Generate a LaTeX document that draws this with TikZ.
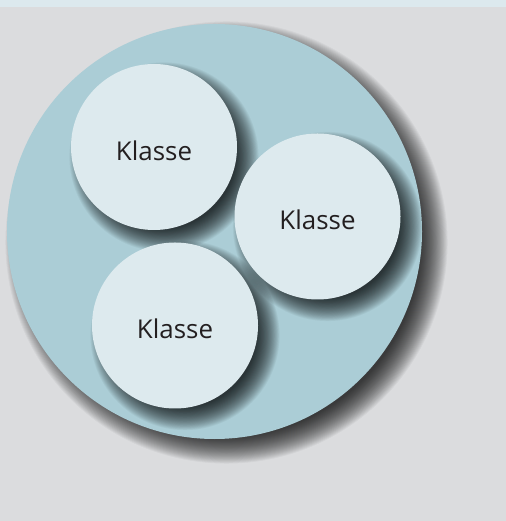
\documentclass[tikz,border=0pt]{standalone}
\usepackage{fontspec}
\setmainfont{Open Sans}
\usetikzlibrary{calc}
\definecolor{panelbg}{HTML}{DBDCDE}
\definecolor{topstrip}{HTML}{DCE9EE}
\definecolor{poolblue}{HTML}{ABCDD6}
\definecolor{classfill}{HTML}{DDEAEE}
\definecolor{ink}{HTML}{231F20}
% soft drop shadow: {centre}{radius}{x shift}{y shift}{blur}
\newcommand\softshadow[5]{%
  \foreach \i in {0,...,29}{%
    \fill[black, fill opacity=0.04]
      ($(#1)+(#3,#4)$) circle [radius={#2-#5+2*#5*(\i+0.5)/30}];
  }}
\begin{document}
\begin{tikzpicture}[x=1bp,y=1bp,
  pooldisk/.style={circle, fill=poolblue, minimum size=415bp, inner sep=0pt},
  classdisk/.style={circle, fill=classfill, minimum size=166bp, inner sep=0pt,
    text=ink, font=\fontsize{26}{30}\selectfont,
    text height=27bp, text depth=0bp}]
  \useasboundingbox (0,0) rectangle (506,521);
  % panel background and top strip
  \fill[panelbg] (0,0) rectangle (506,521);
  \fill[topstrip] (0,514) rectangle (506,521);
  % centres
  \coordinate (cp) at (214.5,289.5);
  \coordinate (c1) at (154,374);
  \coordinate (c2) at (317.5,304.5);
  \coordinate (c3) at (175,195.5);
  % large container disk
  \softshadow{cp}{207.5}{12}{-11}{14}
  \node[pooldisk] (pool) at (cp) {};
  % three classes inside
  \softshadow{c1}{83}{10}{-10}{12}
  \node[classdisk] (k1) at (c1) {Klasse};
  \softshadow{c2}{83}{10}{-10}{12}
  \node[classdisk] (k2) at (c2) {Klasse};
  \softshadow{c3}{83}{10}{-10}{12}
  \node[classdisk] (k3) at (c3) {Klasse};
\end{tikzpicture}
\end{document}
